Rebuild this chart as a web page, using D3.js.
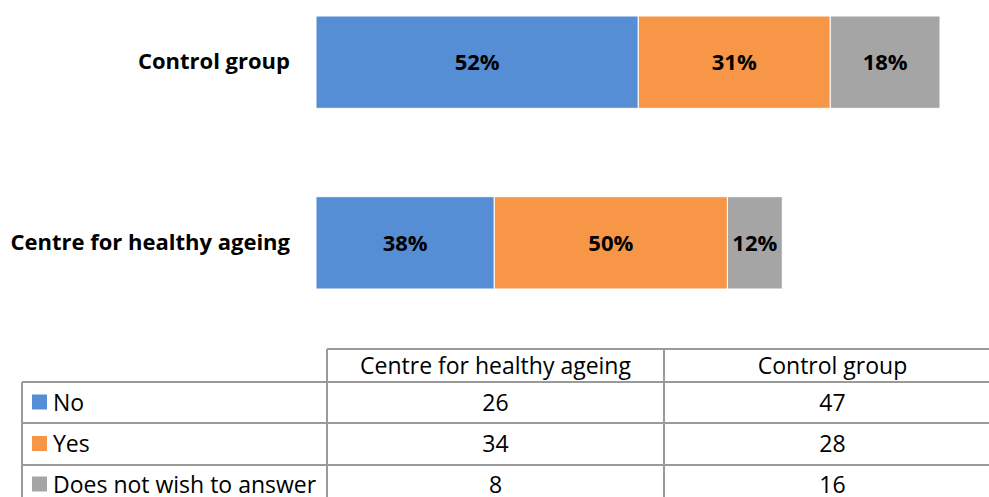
<!DOCTYPE html>
<html>
<head>
<meta charset="utf-8">
<script src="https://cdn.jsdelivr.net/npm/d3@7"></script>
<style>
  html, body { margin: 0; padding: 0; background: #fff; }
  svg { display: block; font-family: "Open Sans", Lato, sans-serif; }
</style>
</head>
<body>
<svg id="chart" width="989" height="497"></svg>
<script>
// Groups as drawn top to bottom, and as listed in the data table (left to right)
const groups = ["Control group", "Centre for healthy ageing"];
const tableGroups = ["Centre for healthy ageing", "Control group"];
const answers = ["No", "Yes", "Does not wish to answer"];
const colors = ["#558ED5", "#F79646", "#A5A5A5"];

// Respondent counts per answer, by group
const noCounts = { "Centre for healthy ageing": 26, "Control group": 47 };
const yesCounts = { "Centre for healthy ageing": 34, "Control group": 28 };
const declinedCounts = { "Centre for healthy ageing": 8, "Control group": 16 };

const counts = [noCounts, yesCounts, declinedCounts];
const rows = groups.map(g => {
  const r = { group: g };
  answers.forEach((a, i) => { r[a] = counts[i][g]; });
  r.total = answers.reduce((s, a) => s + r[a], 0);
  return r;
});

const svg = d3.select("#chart");
const FONT = "'Open Sans', Lato, sans-serif";

const maxTotal = d3.max(rows, r => r.total);
const x = d3.scaleLinear().domain([0, maxTotal]).range([316, 940]);
const y = d3.scaleBand().domain(groups).range([16, 289]).paddingInner(0.489).paddingOuter(0);
const color = d3.scaleOrdinal().domain(answers).range(colors);

const series = d3.stack().keys(answers)(rows);

const layer = svg.append("g").selectAll("g")
  .data(series).join("g")
  .attr("fill", d => color(d.key));

layer.selectAll("rect")
  .data(d => d.map(p => ({ key: d.key, p })))
  .join("rect")
  .attr("x", d => x(d.p[0]))
  .attr("y", d => y(d.p.data.group))
  .attr("width", d => x(d.p[1]) - x(d.p[0]))
  .attr("height", y.bandwidth())
  .attr("stroke", "#fff")
  .attr("stroke-width", 1);

// Percentage labels centred in each segment
layer.selectAll("text")
  .data(d => d.map(p => ({ key: d.key, p })))
  .join("text")
  .attr("x", d => (x(d.p[0]) + x(d.p[1])) / 2)
  .attr("y", d => y(d.p.data.group) + y.bandwidth() / 2)
  .attr("dy", "0.36em")
  .attr("text-anchor", "middle")
  .attr("fill", "#000")
  .attr("font-weight", "bold")
  .attr("font-size", 22)
  .text(d => Math.round(100 * (d.p[1] - d.p[0]) / d.p.data.total) + "%");

// Category axis labels
const yAxis = svg.append("g")
  .attr("transform", "translate(300,0)")
  .call(d3.axisLeft(y).tickSize(0).tickPadding(10));
yAxis.select(".domain").remove();
yAxis.selectAll("text")
  .attr("font-family", FONT)
  .attr("font-size", 22)
  .attr("font-weight", "bold")
  .attr("fill", "#000");

// Data table below the chart
const colEdges = [22, 327, 664, 1001];
const lineYs = [349, 382, 423, 465, 506];
const gridColor = "#9A9A9A";
const table = svg.append("g").attr("stroke", gridColor).attr("stroke-width", 2);

// horizontal rules
table.append("line").attr("x1", colEdges[1]).attr("x2", colEdges[3]).attr("y1", lineYs[0]).attr("y2", lineYs[0]);
lineYs.slice(1).forEach(yy => {
  table.append("line").attr("x1", colEdges[0]).attr("x2", colEdges[3]).attr("y1", yy).attr("y2", yy);
});
// vertical rules
table.append("line").attr("x1", colEdges[0]).attr("x2", colEdges[0]).attr("y1", lineYs[1]).attr("y2", lineYs[4]);
colEdges.slice(1).forEach(xx => {
  table.append("line").attr("x1", xx).attr("x2", xx).attr("y1", lineYs[0]).attr("y2", lineYs[4]);
});

const tText = svg.append("g").attr("font-size", 23).attr("fill", "#000");

tableGroups.forEach((g, j) => {
  tText.append("text")
    .attr("x", (colEdges[j + 1] + colEdges[j + 2]) / 2)
    .attr("y", (lineYs[0] + lineYs[1]) / 2)
    .attr("dy", "0.36em")
    .attr("text-anchor", "middle")
    .text(g);
});

answers.forEach((a, i) => {
  const cy = (lineYs[i + 1] + lineYs[i + 2]) / 2 - (i === 2 ? 1 : 0);
  svg.append("rect")
    .attr("x", 32).attr("y", cy - 8)
    .attr("width", 15).attr("height", 15)
    .attr("fill", color(a));
  tText.append("text")
    .attr("x", 53).attr("y", cy)
    .attr("dy", "0.36em")
    .text(a);
  tableGroups.forEach((g, j) => {
    tText.append("text")
      .attr("x", (colEdges[j + 1] + colEdges[j + 2]) / 2)
      .attr("y", cy)
      .attr("dy", "0.36em")
      .attr("text-anchor", "middle")
      .text(counts[i][g]);
  });
});
</script>
</body>
</html>
